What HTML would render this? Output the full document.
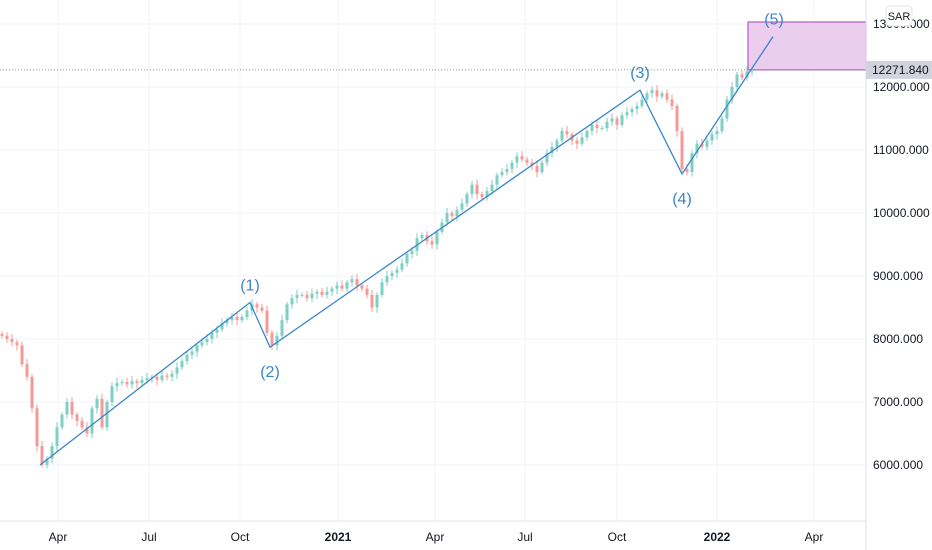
<!DOCTYPE html>
<html><head><meta charset="utf-8"><style>
body{margin:0;background:#fff;font-family:"Liberation Sans",sans-serif}
svg{display:block}
</style></head><body>
<svg id="c" width="932" height="550" xmlns="http://www.w3.org/2000/svg"></svg>
<script>
const closes=[8050,8000,7950,7900,7600,7400,6900,6300,6000,6100,6300,6600,6800,7000,6800,6700,6600,6500,6900,7050,6600,7000,7250,7300,7320,7280,7330,7300,7350,7380,7400,7350,7420,7400,7450,7550,7650,7750,7800,7900,7950,8000,8100,8150,8250,8300,8350,8300,8350,8450,8550,8500,8450,8100,7900,8050,8300,8550,8650,8700,8700,8650,8720,8750,8700,8750,8800,8850,8800,8900,8950,8850,8800,8700,8500,8700,8900,9000,9050,9100,9200,9350,9400,9600,9650,9550,9500,9700,9850,10000,9950,10050,10150,10300,10450,10300,10250,10350,10450,10600,10650,10700,10800,10900,10850,10800,10750,10650,10800,10950,11050,11150,11300,11250,11150,11100,11200,11300,11400,11350,11350,11450,11500,11400,11550,11600,11650,11700,11800,11900,11950,11850,11900,11800,11700,11300,10700,10650,10950,11100,11050,11150,11250,11300,11500,11800,12000,12200,12150,12250,12272];
const priceTicks=[6000,7000,8000,9000,10000,11000,12000,13000];
const timeLabels=["Apr","Jul","Oct","2021","Apr","Jul","Oct","2022","Apr"];
const timeX=[58,149,240,338,435,525,617,717,814];
const waves=[[40,6000],[250,8580],[270,7870],[640,11950],[682,10620],[773,12800]];
const waveLabels=["(1)","(2)","(3)","(4)","(5)"];
const lastPrice=12271.84;
const NS="http://www.w3.org/2000/svg",svg=document.getElementById('c');
const y=p=>465-(p-6000)*0.063;
const xi=i=>5*i+2;
function el(t,a,p){const e=document.createElementNS(NS,t);for(const k in a)e.setAttribute(k,a[k]);(p||svg).appendChild(e);return e;}
// grid
priceTicks.forEach(p=>{const l=el('line',{x1:0,x2:866,y1:y(p),y2:y(p),stroke:'#f0f3fa'});
});
timeX.forEach(x=>{const l=el('line',{x1:x,x2:x,y1:0,y2:521,stroke:'#f0f3fa'});
});
// target box
const box=el('rect',{x:748,y:y(13000)-2,width:118,height:y(lastPrice)-y(13000)+2,fill:'#ebcdee',stroke:'#b55cc4','stroke-width':1.2});

// candles
closes.forEach((c,i)=>{const o=i?closes[i-1]:c+30;const up=c>=o;const col=up?'#7fcfc5':'#f59a96';
const hi=Math.max(o,c)+40+(i%3)*20,lo=Math.min(o,c)-40-(i%4)*15;
const g=el('g',{});
el('line',{x1:xi(i),x2:xi(i),y1:y(hi),y2:y(lo),stroke:col},g);
el('rect',{x:xi(i)-1.5,y:y(Math.max(o,c)),width:3,height:Math.max(1,Math.abs(y(o)-y(c))),fill:col},g);});
// last price dotted
const lp=el('line',{x1:0,x2:866,y1:y(lastPrice),y2:y(lastPrice),stroke:'#9598a1','stroke-dasharray':'1 2'});

// waves
const wl=el('polyline',{points:waves.map(w=>w[0]+','+y(w[1])).join(' '),fill:'none',stroke:'#3a86c8','stroke-width':1.3});

waves.slice(1).forEach((w,i)=>{const top=i%2===0;const t=el('text',{x:w[0]+(i==4?1:0),y:top?y(w[1])-12:y(w[1])+30,'text-anchor':'middle','font-size':16,fill:'#3a86c8','font-family':'Liberation Sans Narrow,Liberation Sans,sans-serif'});
t.textContent=waveLabels[i];});
// axes
el('line',{x1:866,x2:866,y1:0,y2:550,stroke:'#e0e3eb'});
el('line',{x1:0,x2:866,y1:521,y2:521,stroke:'#e0e3eb'});
priceTicks.forEach(p=>{const t=el('text',{x:873,y:y(p)+4,'font-size':12,fill:'#131722'});t.textContent=p.toFixed(3);
});
timeLabels.forEach((s,i)=>{const t=el('text',{x:timeX[i],y:541,'text-anchor':'middle','font-size':12,fill:'#131722','font-weight':(s=='2021'||s=='2022')?'bold':'normal'});
t.textContent=s;});
const pl=el('rect',{x:866,y:y(lastPrice)-9,width:66,height:18,fill:'#d1d4dc'});

const pt=el('text',{x:872,y:y(lastPrice)+4,'font-size':12,fill:'#131722'});pt.textContent=lastPrice.toFixed(3);

const sb=el('rect',{x:886,y:6,width:26,height:20,rx:4,fill:'#fff',stroke:'#e0e3eb'});

const st=el('text',{x:899,y:20,'text-anchor':'middle','font-size':11,fill:'#131722'});st.textContent='SAR';

</script>
</body></html>
